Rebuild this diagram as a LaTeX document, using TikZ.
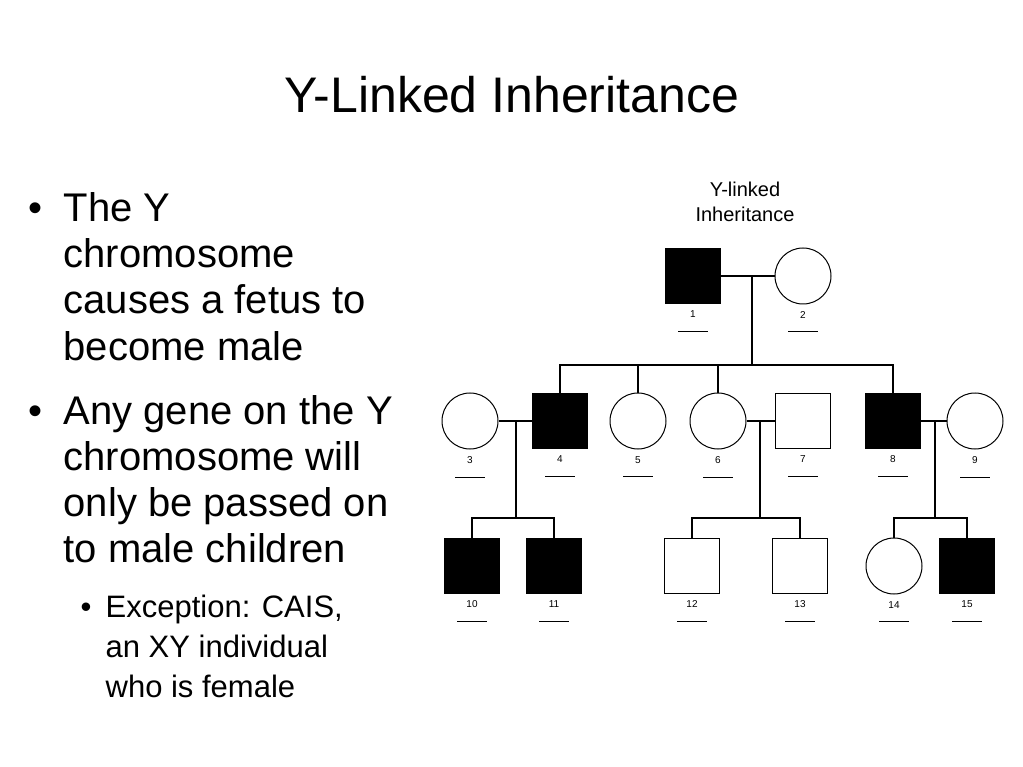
\documentclass[tikz,border=0pt]{standalone}
\usepackage{fontspec}
\setmainfont{Liberation Sans}
\usetikzlibrary{positioning}
\begin{document}
\begin{tikzpicture}[x=1pt,y=-1pt,line width=1.3pt]
        \tikzstyle{male} = [draw, shape=rectangle, minimum size=55pt, inner sep=0pt, line width=1pt]
        \tikzstyle{female} = [draw, shape=circle, minimum size=56pt, inner sep=0pt, line width=1pt]
        \tikzstyle{aff} = [fill=black]
        \tikzstyle{num} = [font=\fontsize{10}{12}\selectfont, inner sep=1pt]
        \tikzstyle{line} = [font=\fontsize{40}{46}\selectfont, anchor=base west, inner sep=0pt]
        \tikzstyle{subline} = [font=\fontsize{31}{36}\selectfont, anchor=base west, inner sep=0pt]
        \useasboundingbox (0,0) rectangle (1023,767);
        % Title and text
        \node [font=\fontsize{50}{60}\selectfont] (title) at (512,95) {Y-Linked Inheritance};
        \node [line] (b1) at (28,222) {\textbullet};
        \node [line] (t1) at (63,222) {The Y};
        \node [line] (t2) at (63,268) {chromosome};
        \node [line] (t3) at (63,314) {causes a fetus to};
        \node [line] (t4) at (63,360) {become male};
        \node [line] (b2) at (28,424) {\textbullet};
        \node [line] (t5) at (63,424) {Any gene on the Y};
        \node [line] (t6) at (63,470) {chromosome will};
        \node [line] (t7) at (63,516) {only be passed on};
        \node [line] (t8) at (63,562) {to male children};
        \node [subline] (b3) at (80,617) {\textbullet};
        \node [subline] (s1) at (105,617) {Exception: CAIS,};
        \node [subline] (s2) at (105,657) {an XY individual};
        \node [subline] (s3) at (105,697) {who is female};
        \node [align=center, font=\fontsize{20}{25}\selectfont] (ptitle) at (745,202) {Y-linked\\Inheritance};
        % Pedigree
        \node [male, aff] (p1) at (693,276) {};
        \node [female] (p2) at (803,276) {};
        \node [female] (p3) at (470,421) {};
        \node [male, aff] (p4) at (560,421) {};
        \node [female] (p5) at (638,421) {};
        \node [female] (p6) at (718,421) {};
        \node [male] (p7) at (803,421) {};
        \node [male, aff] (p8) at (893,421) {};
        \node [female] (p9) at (975,421) {};
        \node [male, aff] (p10) at (472,566) {};
        \node [male, aff] (p11) at (554,566) {};
        \node [male] (p12) at (692,566) {};
        \node [male] (p13) at (800,566) {};
        \node [female] (p14) at (894,566) {};
        \node [male, aff] (p15) at (967,566) {};
        \foreach \i in {1,...,15} {
            \node [num, below=5pt of p\i] (n\i) {\i};
            \draw [line width=0.6pt] ([xshift=-15pt,yshift=-12pt]n\i.south) -- ([xshift=15pt,yshift=-12pt]n\i.south);
        }
        % Connections
        \coordinate (m12) at (752,276);
        \coordinate (c1) at (752,365);
        \coordinate (m34) at (516,421);
        \coordinate (m67) at (760,421);
        \coordinate (m89) at (935,421);
        \draw (p1) -- (p2);
        \draw (m12) -- (c1);
        \draw (p4.north) |- (c1) -| (p8.north);
        \draw (p5.north) |- (c1);
        \draw (p6.north) |- (c1);
        \draw (p3) -- (p4);
        \draw (p6) -- (p7);
        \draw (p8) -- (p9);
        \draw (m34) -- (516,518);
        \draw (p10.north) |- (516,518) -| (p11.north);
        \draw (m67) -- (760,518);
        \draw (p12.north) |- (760,518) -| (p13.north);
        \draw (m89) -- (935,518);
        \draw (p14.north) |- (935,518) -| (p15.north);
    \end{tikzpicture}
\end{document}
